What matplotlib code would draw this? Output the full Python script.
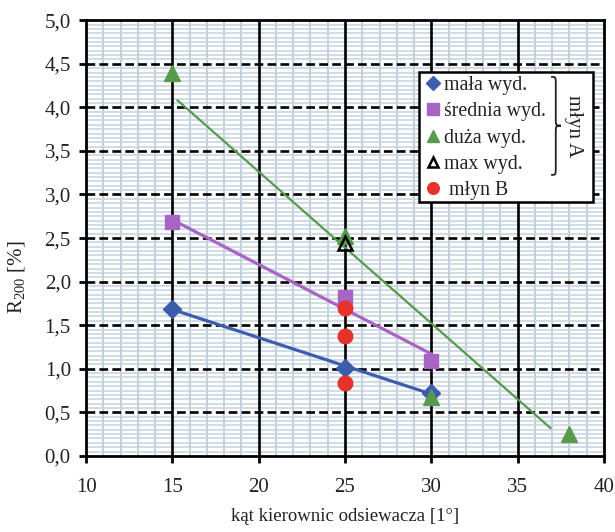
import numpy as np
import matplotlib
matplotlib.use('Agg')
import matplotlib.pyplot as plt
from matplotlib.path import Path
from matplotlib.patches import PathPatch, Rectangle

plt.rcParams['font.family'] = ['Liberation Serif', 'DejaVu Serif']
plt.rcParams['mathtext.fontset'] = 'custom'
plt.rcParams['mathtext.rm'] = 'Liberation Serif'
plt.rcParams['mathtext.it'] = 'Liberation Serif:italic'

# data
mala_x = [15, 25, 30]
mala_y = [1.69, 1.01, 0.72]
srednia_x = [15, 25, 30]
srednia_y = [2.69, 1.82, 1.09]
duza_x = [15, 25, 30, 38]
duza_y = [4.39, 2.52, 0.68, 0.25]
max_x = [25]
max_y = [2.44]
mlynB_x = [25, 25, 25]
mlynB_y = [1.70, 1.38, 0.84]

# trend lines (end points)
mala_trend_x = [15, 30]
mala_trend_y = [1.68, 0.71]
srednia_trend_x = [15, 30]
srednia_trend_y = [2.71, 1.17]
duza_trend_x = [15.3, 36.9]
duza_trend_y = [4.08, 0.32]

labels = ['mała wyd.', 'średnia wyd.', 'duża wyd.', 'max wyd.', ' młyn B']

c_blue = '#3C5DAE'
c_purple = '#A864C2'
c_green = '#579A4C'
c_red = '#E5332C'
c_txt = '#222222'

fig = plt.figure(figsize=(6.15, 5.32), dpi=100)
ax = fig.add_axes([0.140, 0.143, 0.842, 0.819])

ax.set_xlim(10, 40)
ax.set_ylim(0, 5)

# grid: light minor lines, black major lines
for v in np.arange(11, 40, 1):
    if v % 5:
        ax.axvline(v, color='#C3D1DE', lw=1.5, zorder=0)
for v in np.arange(0.05, 5.0, 0.05):
    if round(v * 20) % 10:
        ax.axhline(v, color='#C9D5E1', lw=1.2, zorder=0)
for v in [15, 20, 25, 30, 35]:
    ax.axvline(v, color='black', lw=1.9, zorder=1)
for v in np.arange(0.5, 5.0, 0.5):
    ax.axhline(v, color='black', lw=1.9, ls=(0, (3.3, 1.6)), zorder=1)

ax.plot(mala_trend_x, mala_trend_y, color=c_blue, lw=2.3, zorder=2)
ax.plot(srednia_trend_x, srednia_trend_y, color=c_purple, lw=2.3, zorder=2)
ax.plot(duza_trend_x, duza_trend_y, color=c_green, lw=1.6, zorder=2)

h1, = ax.plot(mala_x, mala_y, ls='none', marker='D', ms=9, color=c_blue, zorder=3)
h2, = ax.plot(srednia_x, srednia_y, ls='none', marker='s', ms=10.5, color=c_purple, zorder=3)
h3, = ax.plot(duza_x, duza_y, ls='none', marker='^', ms=11.5, color=c_green, zorder=4)
h4, = ax.plot(max_x, max_y, ls='none', marker='^', ms=9.5, mfc='none', mec='black', mew=1.8, zorder=5)
h5, = ax.plot(mlynB_x, mlynB_y, ls='none', marker='o', ms=10.5, color=c_red, zorder=5)

for s in ax.spines.values():
    s.set_linewidth(2)
    s.set_zorder(6)

ax.set_xticks([10, 15, 20, 25, 30, 35, 40])
ax.set_yticks(np.arange(0, 5.01, 0.5))
ax.set_yticklabels([('%.1f' % v).replace('.', ',') for v in np.arange(0, 5.01, 0.5)])
ax.tick_params(direction='out', length=5, width=2, labelsize=15, pad=6, colors='black')
ax.tick_params(axis='y', labelcolor=c_txt)
ax.tick_params(axis='x', labelcolor=c_txt, pad=11)

ax.set_xlabel('kąt kierownic odsiewacza [1°]', fontsize=13.5, color=c_txt, labelpad=8)
ax.set_ylabel(r'R$_{200}$ [%]', fontsize=15, color=c_txt)
ax.yaxis.set_label_coords(-0.115, 0.41)

# legend box
ax.add_patch(Rectangle((0.643, 0.583), 0.336, 0.298, transform=ax.transAxes,
                       facecolor='white', edgecolor='black', lw=1.8, zorder=7, clip_on=False))
leg = ax.legend([h1, h2, h3, h4, h5], labels, loc='upper left', bbox_to_anchor=(0.643, 0.885),
                frameon=False, fontsize=14.3, handlelength=0.8, handletextpad=0.15,
                labelspacing=0.36, borderpad=0.3, borderaxespad=0, markerscale=0.8)
leg.set_zorder(8)
for t in leg.get_texts():
    t.set_color(c_txt)

# brace grouping the mill A entries
x0, xm, x1 = 0.898, 0.907, 0.917
yt, ym, yb = 0.870, 0.758, 0.645
d = 0.018
verts = [(x0, yt), (xm, yt), (xm, yt), (xm, yt - d),
         (xm, ym + d),
         (xm, ym), (xm, ym), (x1, ym),
         (xm, ym), (xm, ym), (xm, ym - d),
         (xm, yb + d),
         (xm, yb), (xm, yb), (x0, yb)]
codes = [Path.MOVETO, Path.CURVE4, Path.CURVE4, Path.CURVE4,
         Path.LINETO,
         Path.CURVE4, Path.CURVE4, Path.CURVE4,
         Path.CURVE4, Path.CURVE4, Path.CURVE4,
         Path.LINETO,
         Path.CURVE4, Path.CURVE4, Path.CURVE4]
ax.add_patch(PathPatch(Path(verts, codes), transform=ax.transAxes, facecolor='none',
                       edgecolor=c_txt, lw=1.3, zorder=9, clip_on=False))
ax.text(0.942, 0.757, 'młyn A', transform=ax.transAxes, rotation=270, fontsize=15,
        color=c_txt, ha='center', va='center', zorder=9)

fig.savefig('out.png', dpi=100)
